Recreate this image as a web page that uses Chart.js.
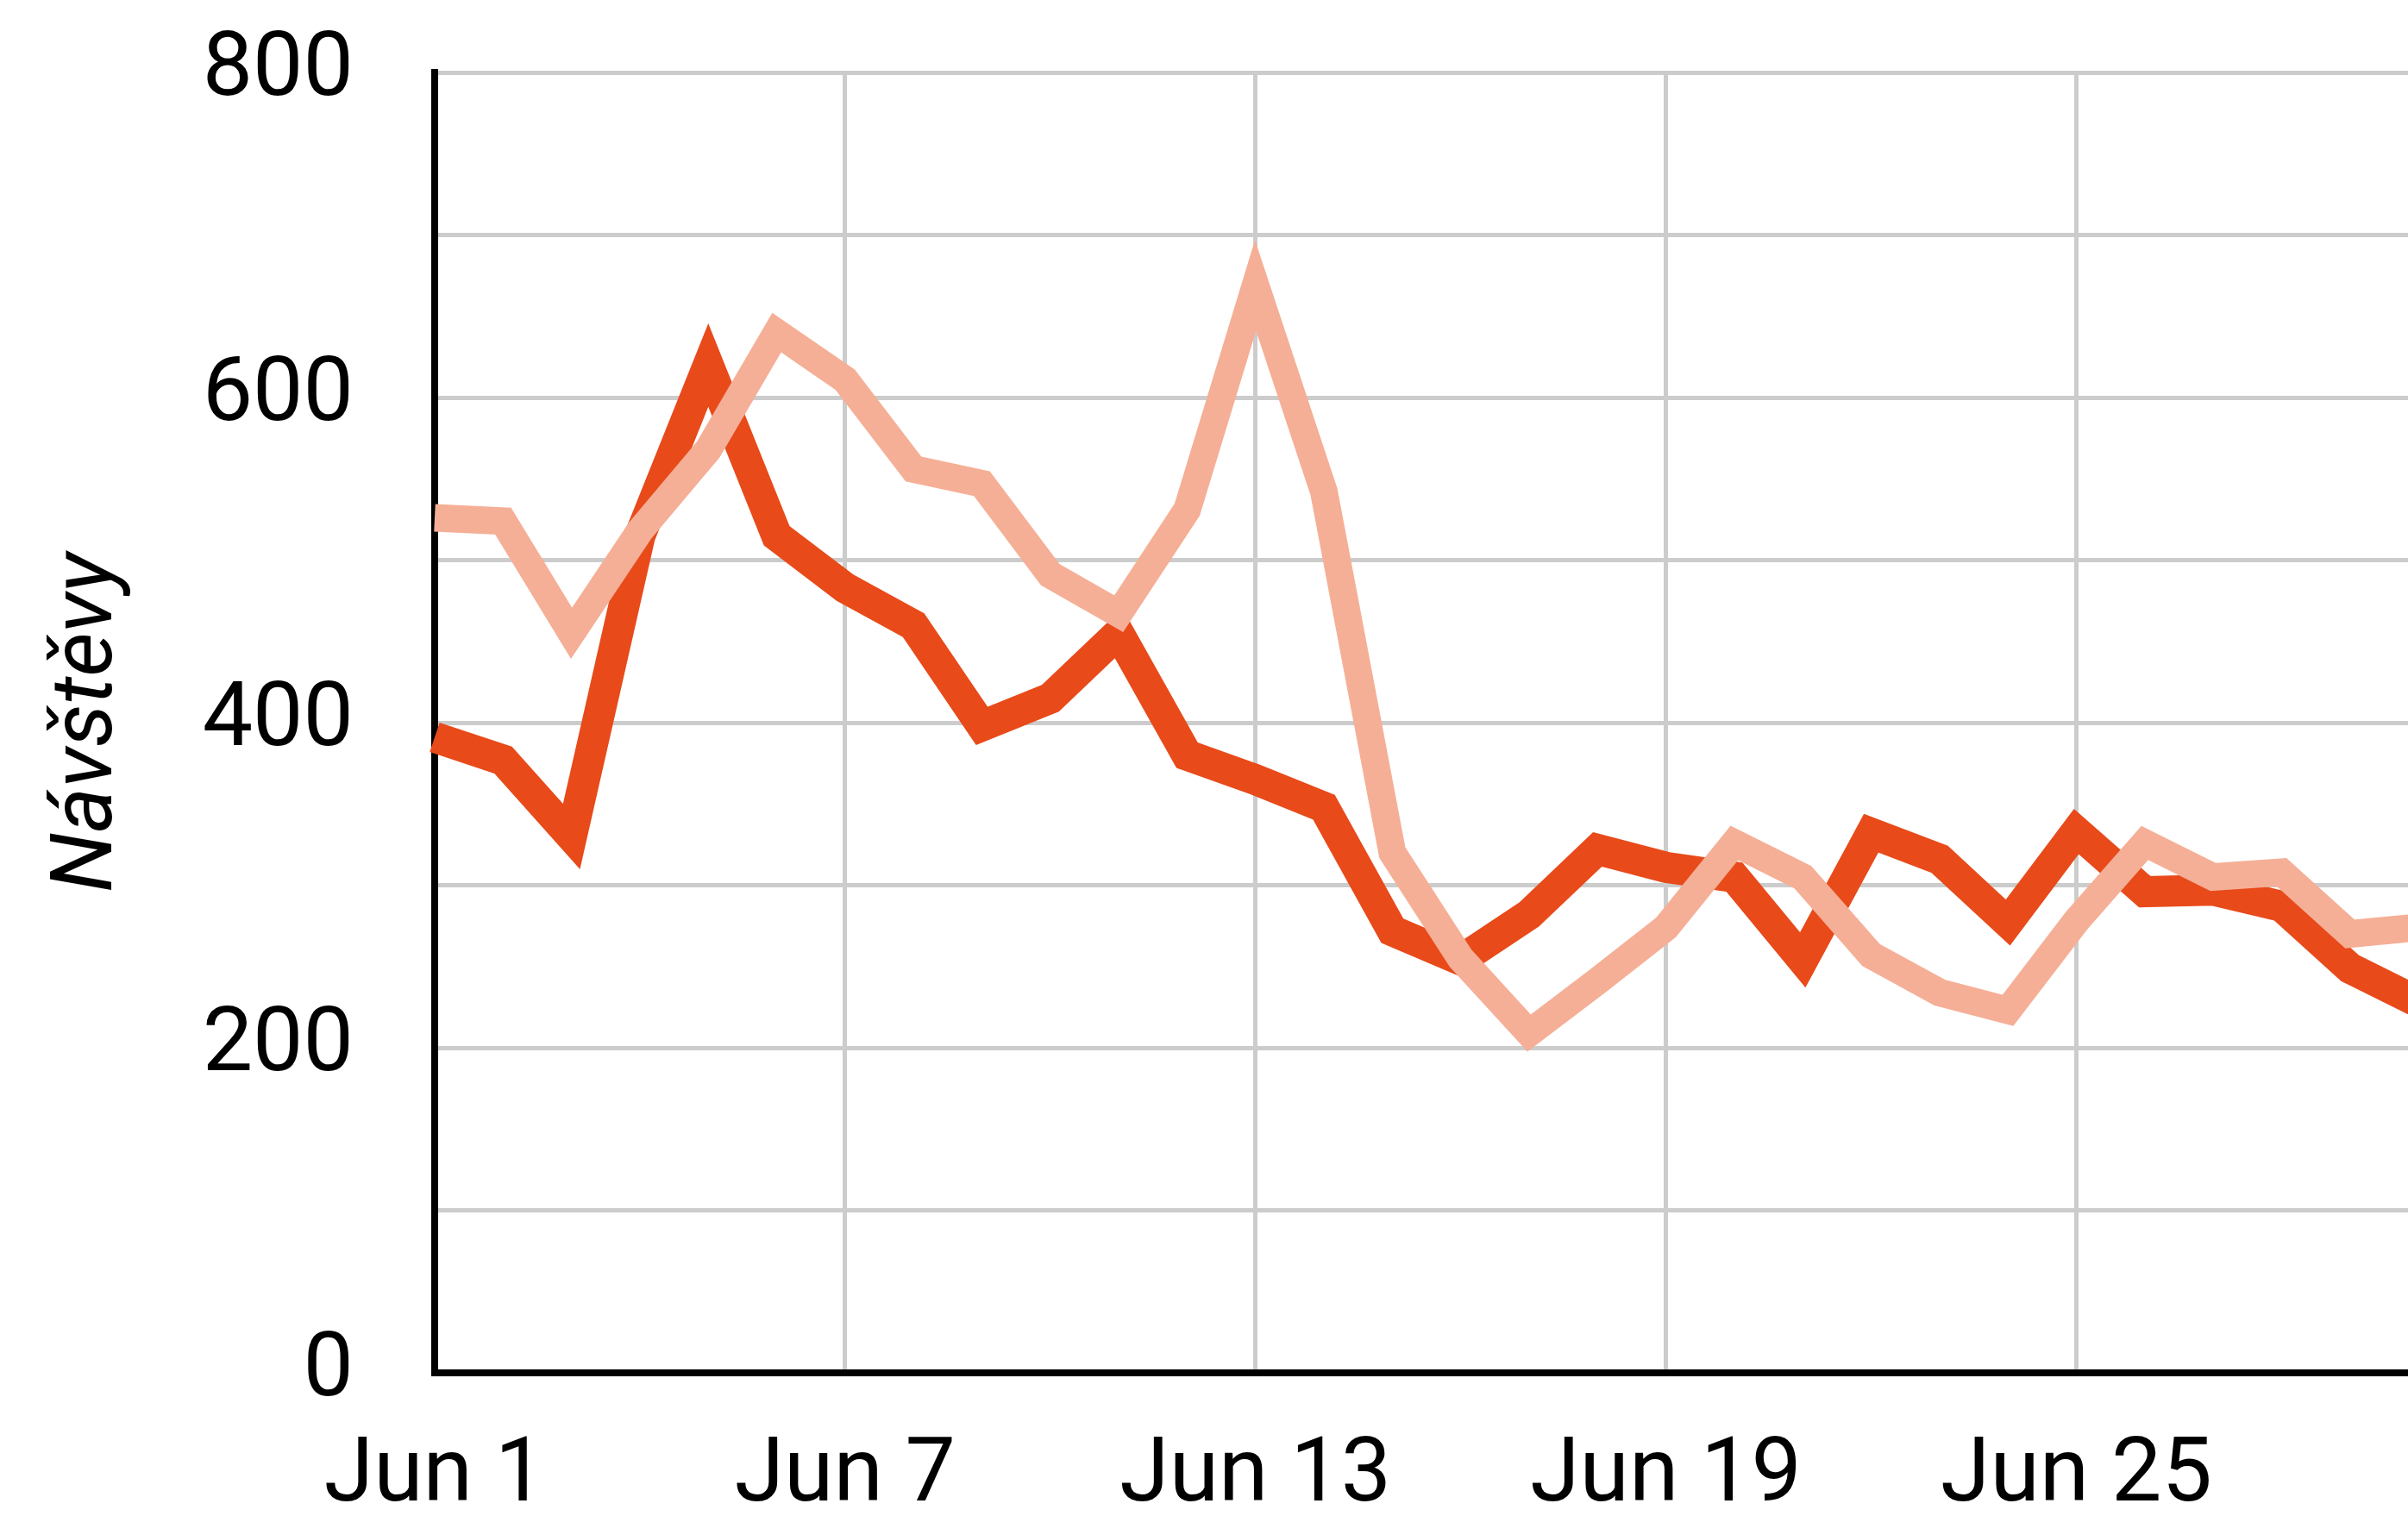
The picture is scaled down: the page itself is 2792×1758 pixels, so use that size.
<!DOCTYPE html>
<html>
<head>
<meta charset="utf-8">
<script src="https://cdn.jsdelivr.net/npm/chart.js@4"></script>
<style>
  html, body { margin: 0; padding: 0; background: #fff; overflow: hidden; }
  #wrap { position: relative; width: 2804px; height: 1758px; }
</style>
</head>
<body>
<div id="wrap"><canvas id="visitsChart"></canvas></div>
<script>
// Návštěvy – June, two series
const days = [
  "Jun 1", "Jun 2", "Jun 3", "Jun 4", "Jun 5", "Jun 6", "Jun 7", "Jun 8", "Jun 9", "Jun 10",
  "Jun 11", "Jun 12", "Jun 13", "Jun 14", "Jun 15", "Jun 16", "Jun 17", "Jun 18", "Jun 19", "Jun 20",
  "Jun 21", "Jun 22", "Jun 23", "Jun 24", "Jun 25", "Jun 26", "Jun 27", "Jun 28", "Jun 29", "Jun 30",
];
const visitsDark = [
  391, 377, 330, 515, 620, 515, 483, 460, 398, 415,
  455, 380, 365, 348, 272, 254, 282, 322, 311, 305,
  254, 332, 316, 277, 333, 296, 297, 287, 249, 228,
];
const visitsLight = [
  526, 524, 455, 518, 568, 640, 611, 556, 547, 491,
  467, 531, 669, 542, 320, 255, 209, 241, 274, 326,
  305, 257, 234, 223, 278, 326, 305, 308, 270, 274,
];
const yTicks = [0, 200, 400, 600, 800];
const xTickEvery = 6;

const gridColor = "#cccccc";
const font = { family: "Roboto", size: 104 };

const ctx = document.getElementById("visitsChart").getContext("2d");
new Chart(ctx, {
  type: "line",
  data: {
    labels: days,
    datasets: [
      {
        label: "A",
        data: visitsDark,
        borderColor: "#e84a1a",
        borderWidth: 36,
        pointRadius: 0,
        tension: 0,
        order: 1,
      },
      {
        label: "B",
        data: visitsLight,
        borderColor: "#f5af96",
        borderWidth: 32,
        pointRadius: 0,
        tension: 0,
        order: 0,
      },
    ],
  },
  options: {
    responsive: true,
    maintainAspectRatio: false,
    animation: false,
    layout: { padding: { top: 84, left: 0, right: 0, bottom: 0 } },
    plugins: {
      legend: { display: false },
      tooltip: { enabled: false },
    },
    scales: {
      x: {
        offset: false,
        grid: {
          color: (c) => (c.index % xTickEvery === 0 ? gridColor : "rgba(0,0,0,0)"),
          lineWidth: 5,
          drawTicks: false,
        },
        border: { color: "#000", width: 8 },
        ticks: {
          autoSkip: false,
          maxRotation: 0,
          padding: 60,
          color: "#000",
          font: font,
          callback: (v, i) => (i % xTickEvery === 0 ? days[i] : ""),
        },
        afterFit: (s) => {
          s.height = 166;
          s.paddingLeft = 0;
          s.paddingRight = 0;
        },
      },
      y: {
        min: 0,
        max: 800,
        grid: { color: gridColor, lineWidth: 5, drawTicks: false },
        border: { color: "#000", width: 8 },
        ticks: {
          stepSize: 100,
          padding: 94,
          color: "#000",
          font: font,
          callback: (v) => (yTicks.includes(v) ? v : ""),
        },
        title: {
          display: true,
          text: "Návštěvy",
          color: "#000",
          font: { family: "Roboto", size: 100, style: "italic" },
          padding: { top: 44, bottom: 0 },
        },
        afterFit: (s) => {
          s.width = 504;
          s.paddingTop = 0;
          s.paddingBottom = 0;
        },
      },
    },
  },
});
</script>
</body>
</html>
